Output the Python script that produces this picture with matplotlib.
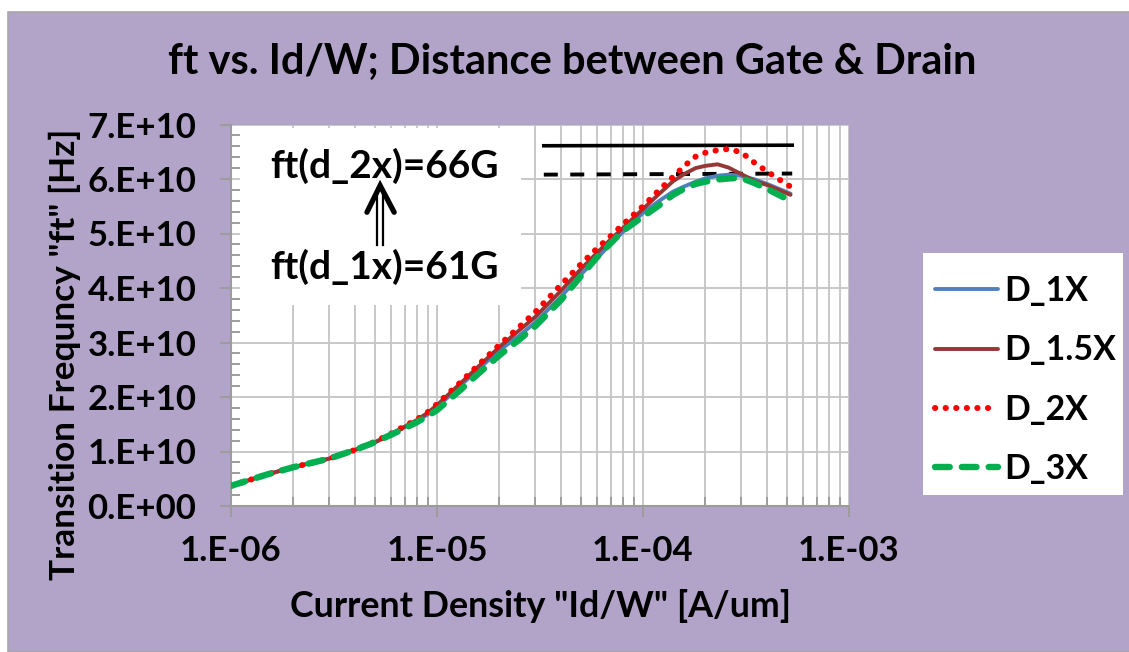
import matplotlib
matplotlib.use("Agg")
import matplotlib.pyplot as plt
from matplotlib.patches import Rectangle
from matplotlib.ticker import FixedLocator, LogLocator, NullFormatter, MultipleLocator
import numpy as np

# ---------------- data ----------------
current_density = [1.0e-6, 1.5e-6, 2e-6, 3e-6, 4e-6, 5e-6, 6e-6, 7e-6, 8e-6, 9e-6,
                   1e-5, 1.3e-5, 1.6e-5, 2e-5, 2.5e-5, 3e-5, 4e-5, 5e-5, 6e-5, 7e-5,
                   8e-5, 1e-4, 1.2e-4, 1.4e-4, 1.6e-4, 1.8e-4, 2e-4, 2.3e-4, 2.6e-4,
                   3e-4, 3.5e-4, 4e-4, 4.5e-4, 5.2e-4]

ft_d1x = [0.37, 0.58, 0.71, 0.87, 1.03, 1.17, 1.32, 1.45, 1.56, 1.68,
          1.81, 2.21, 2.52, 2.85, 3.12, 3.37, 3.84, 4.25, 4.55, 4.82,
          5.03, 5.38, 5.60, 5.77, 5.87, 5.95, 6.01, 6.06, 6.08,
          6.06, 5.99, 5.91, 5.83, 5.73]
ft_d15x = [0.37, 0.58, 0.71, 0.87, 1.03, 1.17, 1.32, 1.46, 1.58, 1.71,
           1.85, 2.25, 2.57, 2.91, 3.22, 3.47, 3.95, 4.35, 4.65, 4.90,
           5.10, 5.45, 5.73, 5.96, 6.10, 6.20, 6.24, 6.27, 6.21,
           6.09, 5.96, 5.89, 5.81, 5.71]
ft_d2x = [0.37, 0.58, 0.71, 0.87, 1.03, 1.18, 1.33, 1.47, 1.59, 1.72,
          1.87, 2.27, 2.60, 2.95, 3.28, 3.56, 4.06, 4.44, 4.73, 4.96,
          5.17, 5.50, 5.80, 6.04, 6.25, 6.41, 6.48, 6.53, 6.55,
          6.49, 6.29, 6.14, 6.01, 5.86]
ft_d3x = [0.37, 0.58, 0.71, 0.87, 1.03, 1.17, 1.31, 1.43, 1.54, 1.65,
          1.76, 2.13, 2.44, 2.76, 3.05, 3.30, 3.78, 4.22, 4.57, 4.83,
          5.05, 5.31, 5.52, 5.71, 5.83, 5.91, 5.95, 5.99, 6.01,
          6.02, 5.92, 5.82, 5.72, 5.60]
scale = 1e10

series_names = ["D_1X", "D_1.5X", "D_2X", "D_3X"]
series_values = [ft_d1x, ft_d15x, ft_d2x, ft_d3x]

ref_x = [3.3e-5, 5.3e-4]
ref_ft_2x = [6.61e10, 6.62e10]
ref_ft_1x = [6.08e10, 6.10e10]

y_ticks = [0, 1e10, 2e10, 3e10, 4e10, 5e10, 6e10, 7e10]
y_tick_labels = ["0.E+00", "1.E+10", "2.E+10", "3.E+10", "4.E+10", "5.E+10", "6.E+10", "7.E+10"]
x_ticks = [1e-6, 1e-5, 1e-4, 1e-3]
x_tick_labels = ["1.E-06", "1.E-05", "1.E-04", "1.E-03"]

title = "ft vs. Id/W; Distance between Gate & Drain"
x_label = 'Current Density "Id/W" [A/um]'
y_label = 'Transition Frequncy "ft" [Hz]'
note_top = "ft(d_2x)=66G"
note_bottom = "ft(d_1x)=61G"

# ---------------- styling ----------------
FONT = ["Lato", "DejaVu Sans"]
plt.rcParams["font.family"] = FONT
plt.rcParams["font.weight"] = "bold"

purple = "#B2A4C8"
grid_c = "#C4C4C4"
axis_c = "#9C9C9C"

fig = plt.figure(figsize=(11.29, 6.52), dpi=100, facecolor="white")
bg = Rectangle((8 / 1129, 0), 1.0, 1 - 12 / 652, transform=fig.transFigure,
               facecolor=purple, edgecolor="#A8A8A8", linewidth=1.2, zorder=-10)
fig.patches.append(bg)
# legend box
legbox = Rectangle((923 / 1129, 1 - 495 / 652), 200 / 1129, 242 / 652, transform=fig.transFigure,
                   facecolor="white", edgecolor="none", zorder=-5)
fig.patches.append(legbox)

ax = fig.add_axes([231 / 1129, 1 - 506 / 652, 618 / 1129, 381.5 / 652])
ax.set_zorder(1)
ax.set_facecolor("white")
ax.set_xscale("log")
ax.set_xlim(1e-6, 1e-3)
ax.set_ylim(0, 7e10)

colors = ["#4F81BD", "#953735", "#FF0000", "#00B050"]
x = np.array(current_density)
lines = []
for name, vals, c in zip(series_names, series_values, colors):
    y = np.array(vals) * scale
    if name == "D_2X":
        ln, = ax.plot(x, y, color=c, lw=4.3, linestyle=(0, (0.05, 1.72)),
                      dash_capstyle="round", label=name, zorder=5)
    elif name == "D_3X":
        ln, = ax.plot(x, y, color=c, lw=4.6, linestyle=(0, (2.3, 1.9)),
                      dash_capstyle="round", label=name, zorder=6)
    else:
        ln, = ax.plot(x, y, color=c, lw=2.8, solid_capstyle="round", label=name, zorder=4)
    lines.append(ln)

# reference lines
ax.plot(ref_x, ref_ft_2x, color="black", lw=2.6, zorder=3)
ax.plot(ref_x, ref_ft_1x, color="black", lw=2.8, linestyle=(0, (3.6, 3.2)), zorder=3)

# grid + ticks
ax.yaxis.set_major_locator(FixedLocator(y_ticks))
ax.yaxis.set_minor_locator(MultipleLocator(2e9))
ax.set_yticklabels(y_tick_labels)
ax.xaxis.set_major_locator(FixedLocator(x_ticks))
ax.xaxis.set_minor_locator(LogLocator(base=10, subs=np.arange(2, 10)))
ax.xaxis.set_minor_formatter(NullFormatter())
ax.set_xticklabels(x_tick_labels)

ax.grid(True, which="major", axis="both", color=grid_c, lw=1.3, zorder=0)
ax.grid(True, which="minor", axis="x", color=grid_c, lw=1.3, zorder=0)
ax.set_axisbelow(True)

for s in ["top", "right"]:
    ax.spines[s].set_visible(False)
for s in ["left", "bottom"]:
    ax.spines[s].set_color(axis_c)
    ax.spines[s].set_linewidth(1.5)

ax.tick_params(which="major", direction="out", length=8, width=1.4, color=axis_c,
               labelsize=25, pad=17)
ax.tick_params(which="minor", direction="in", length=6.5, width=1.4, color=axis_c)
ax.tick_params(axis="x", which="major", pad=13)
for lab in ax.get_xticklabels() + ax.get_yticklabels():
    lab.set_fontweight("bold")

# annotation box
ax.add_patch(Rectangle((0.015, 0.527), 0.454, 0.465, transform=ax.transAxes,
                       facecolor="white", edgecolor="none", zorder=2))
ax.text(0.2476, 0.891, note_top, transform=ax.transAxes, ha="center", va="center",
        fontsize=28, fontweight="bold", zorder=7)
ax.text(0.2476, 0.626, note_bottom, transform=ax.transAxes, ha="center", va="center",
        fontsize=28, fontweight="bold", zorder=7)
# double-shaft arrow
ax.plot([0.2365, 0.2365], [0.684, 0.826], transform=ax.transAxes, color="black", lw=1.6, zorder=7)
ax.plot([0.2462, 0.2462], [0.684, 0.826], transform=ax.transAxes, color="black", lw=1.6, zorder=7)
ax.plot([0.220, 0.2413, 0.264], [0.770, 0.840, 0.770], transform=ax.transAxes, color="black",
        lw=3.8, solid_capstyle="round", solid_joinstyle="miter", zorder=7)

# titles
fig.text(0.507, 0.905, title, ha="center", va="center", fontsize=30, fontweight="bold")
fig.text(541 / 1129, 1 - 606 / 652, x_label, ha="center", va="center", fontsize=25.8, fontweight="bold")
fig.text(65 / 1129, 1 - 354 / 652, y_label, ha="center", va="center", rotation=90,
         fontsize=25.4, fontweight="bold")

# legend
leg = fig.legend(handles=lines, labels=series_names, loc="upper left",
                 bbox_to_anchor=(935 / 1129, 1 - 275 / 652), frameon=False, fontsize=24.4,
                 handlelength=1.85, handletextpad=0.2, labelspacing=0.81, borderpad=0,
                 borderaxespad=0)
for t in leg.get_texts():
    t.set_fontweight("bold")

fig.savefig("out.png", dpi=100, facecolor=fig.get_facecolor())
